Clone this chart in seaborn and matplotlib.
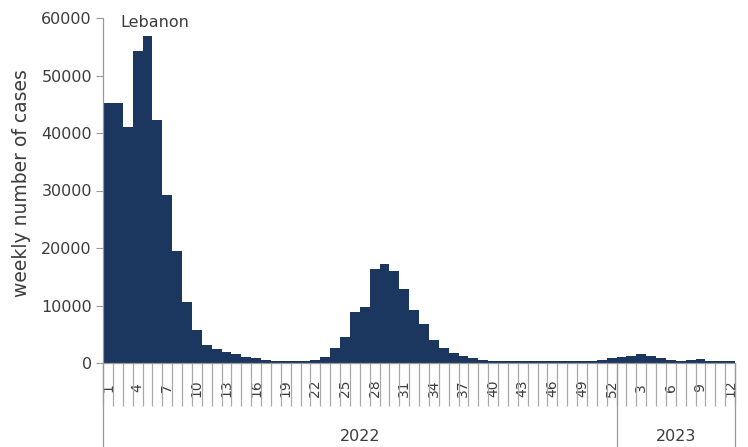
import numpy as np
import pandas as pd
import seaborn as sns
import matplotlib.pyplot as plt
import matplotlib.transforms as mtransforms

# weekly cases, 2022 weeks 1-52 then 2023 weeks 1-12
cases_2022 = [45300, 45300, 41000, 54300, 56800, 42200, 29200, 19500, 10600, 5800,
              3100, 2500, 2000, 1500, 1100, 800, 500, 350, 300, 300,
              300, 500, 1000, 2600, 4600, 8900, 9800, 16300, 17200, 16000,
              12800, 9300, 6700, 4000, 2600, 1700, 1200, 900, 600, 400,
              300, 300, 300, 300, 300, 300, 300, 300, 300, 300,
              500, 800]
cases_2023 = [1000, 1200, 1500, 1200, 900, 500, 300, 600, 700, 300, 300, 300]
weeks_2022 = list(range(1, 53))
weeks_2023 = list(range(1, 13))
years = ['2022', '2023']
y_ticks = [0, 10000, 20000, 30000, 40000, 50000, 60000]

df = pd.DataFrame({
    'year': ['2022'] * len(weeks_2022) + ['2023'] * len(weeks_2023),
    'week': weeks_2022 + weeks_2023,
    'cases': cases_2022 + cases_2023,
})
df['pos'] = np.arange(len(df))

sns.set_style('white')
plt.rcParams['font.family'] = ['DejaVu Sans']
grey = '#3c3c3c'
line_grey = '#9a9a9a'

fig = plt.figure(figsize=(7.48, 4.47), dpi=100)
ax = fig.add_axes([103 / 748, 1 - 363 / 447, 632 / 748, 345 / 447])

sns.barplot(data=df, x='pos', y='cases', color='#1b365f', width=1.0,
            linewidth=0, saturation=1, native_scale=True, ax=ax)

n = len(df)
ax.set_xlim(-0.5, n - 0.5)
ax.set_ylim(0, 60000)
ax.set_yticks(y_ticks)
ax.set_yticklabels([str(v) for v in y_ticks], fontsize=11.5, color=grey)
ax.tick_params(axis='y', left=True, length=5, width=0.8, color=line_grey,
               direction='out', pad=3)

# labels every third week within each year
lab_pos = [p for p, w in zip(df['pos'], df['week']) if (w - 1) % 3 == 0 and p < len(weeks_2022)]
lab_pos += [len(weeks_2022) + w - 1 for w in weeks_2023 if w % 3 == 0]
lab_pos = sorted(set(lab_pos + [len(weeks_2022) - 1]))
ax.set_xticks(lab_pos)
ax.set_xticklabels([str(df['week'][p]) for p in lab_pos], rotation=90,
                   fontsize=10, color=grey)
for t in ax.get_xticklabels():
    t.set_va('center')
ax.tick_params(axis='x', which='major', bottom=True, length=0, pad=18)
ax.set_xticks(np.arange(-0.5, n, 1.0), minor=True)
ax.tick_params(axis='x', which='minor', bottom=True, length=31, width=0.9,
               color='#a8a8a8', direction='out')

ax.set_xlabel('')
ax.set_ylabel('weekly number of cases', fontsize=13.5, color=grey)
ax.yaxis.set_label_coords(-0.114, 0.523)

for s in ['top', 'right']:
    ax.spines[s].set_visible(False)
for s in ['left', 'bottom']:
    ax.spines[s].set_color(line_grey)
    ax.spines[s].set_linewidth(0.9)

# year grouping lines and labels below the axis
trans = mtransforms.blended_transform_factory(ax.transData, ax.transAxes)
bounds = [-0.5, len(weeks_2022) - 0.5, n - 0.5]
for b in bounds:
    ax.plot([b, b], [0, -0.26], transform=trans, color=line_grey, lw=0.9, clip_on=False)
for yr, a, b in zip(years, bounds[:-1], bounds[1:]):
    ax.text((a + b) / 2, -0.213, yr, transform=trans, ha='center', va='center',
            fontsize=11.5, color=grey)

ax.text(1.3, 59200, 'Lebanon', fontsize=11.5, color=grey, va='center')

fig.savefig('out.png', dpi=100)
